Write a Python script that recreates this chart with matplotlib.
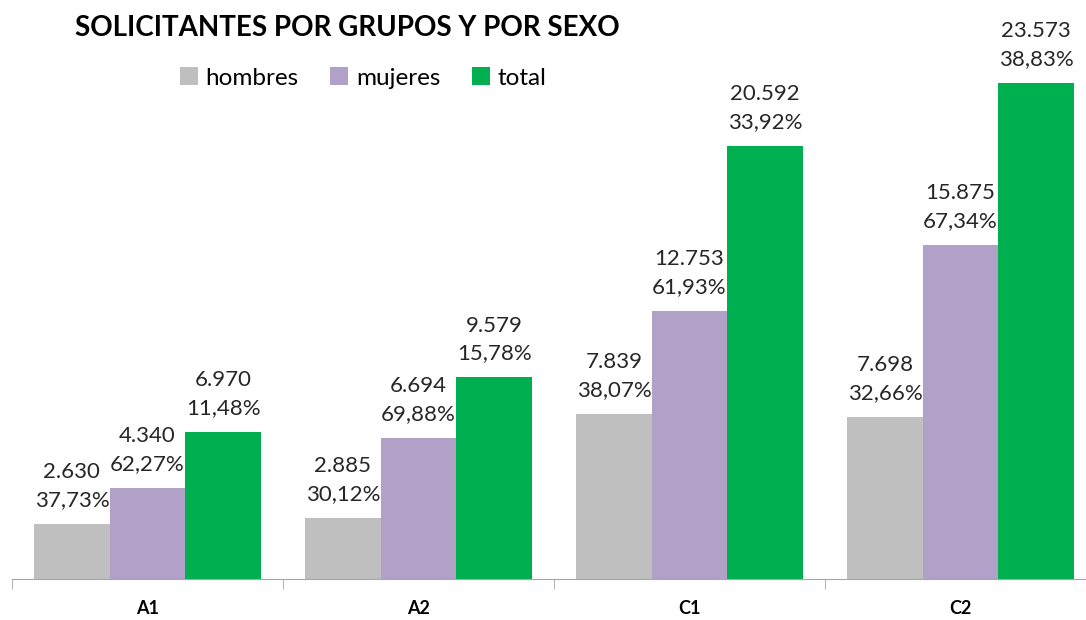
import matplotlib
matplotlib.use("Agg")
import matplotlib.pyplot as plt
import numpy as np

categories = ["A1", "A2", "C1", "C2"]
hombres = [2630, 2885, 7839, 7698]
mujeres = [4340, 6694, 12753, 15875]
total = [6970, 9579, 20592, 23573]
pct_hombres = ["37,73%", "30,12%", "38,07%", "32,66%"]
pct_mujeres = ["62,27%", "69,88%", "61,93%", "67,34%"]
pct_total = ["11,48%", "15,78%", "33,92%", "38,83%"]
series_names = ["hombres", "mujeres", "total"]
colors = ["#BFBFBF", "#B1A0C7", "#00B050"]

plt.rcParams['font.family'] = ['Lato', 'DejaVu Sans']

fig = plt.figure(figsize=(10.86, 6.2), dpi=100)
ax = fig.add_axes([12/1086, 41/620, 1084/1086, 579/620])

def fmt(v):
    return f"{v:,}".replace(",", ".")

x = np.arange(len(categories))
w = 0.279
series = [hombres, mujeres, total]
pcts = [pct_hombres, pct_mujeres, pct_total]
for i, (vals, pc, col, name) in enumerate(zip(series, pcts, colors, series_names)):
    pos = x + (i - 1) * w
    ax.bar(pos, vals, width=w, color=col, label=name)
    for p, v, s in zip(pos, vals, pc):
        ax.annotate(f"{fmt(v)}\n{s}", (p, v), xytext=(0, 10), textcoords="offset points",
                    ha="center", va="bottom", fontsize=16, linespacing=1.5, color="#262626")

ax.set_xlim(-0.5, 3.5)
ax.set_ylim(0, 27520)
ax.set_yticks([])
for sp in ["left", "right", "top"]:
    ax.spines[sp].set_visible(False)
ax.spines["bottom"].set_color("#A6A6A6")
ax.set_xticks(x)
ax.set_xticklabels(categories, fontsize=13, fontweight="bold")
ax.tick_params(axis="x", length=0, pad=15)
ax.set_xticks(np.arange(-0.5, 4.0, 1.0), minor=True)
ax.tick_params(axis="x", which="minor", length=7, color="#A6A6A6")

fig.text(75/1086, 1 - 28/620, "SOLICITANTES POR GRUPOS Y POR SEXO", fontsize=20,
         fontweight="bold", va="center", ha="left")
leg = fig.legend(loc="center left", bbox_to_anchor=(180/1086, 1 - 78/620), ncol=3,
                 frameon=False, fontsize=17.5, handlelength=0.75, handleheight=0.75,
                 handletextpad=0.3, columnspacing=1.3, borderaxespad=0, borderpad=0)

fig.savefig("out.png", dpi=100)
